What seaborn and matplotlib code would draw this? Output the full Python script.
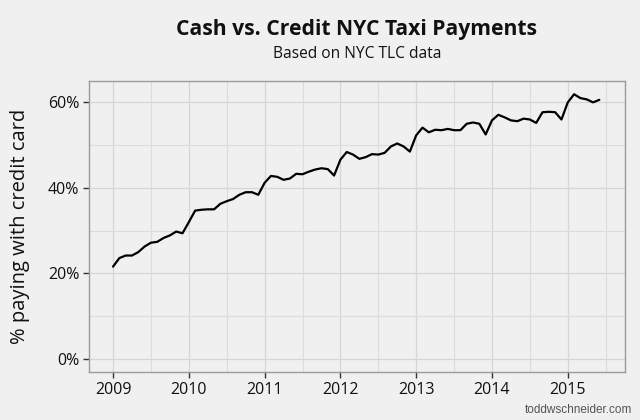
import numpy as np
import pandas as pd
import matplotlib
matplotlib.use("Agg")
import matplotlib.pyplot as plt
import seaborn as sns
from matplotlib.ticker import MultipleLocator, FuncFormatter

start_year = 2009
credit_pct = [
    21.6, 23.6, 24.2, 24.2, 25.0, 26.3, 27.2, 27.4, 28.3, 28.9, 29.8, 29.4,
    32.0, 34.7, 34.9, 35.0, 35.0, 36.3, 36.9, 37.4, 38.4, 39.0, 39.0, 38.4,
    41.2, 42.8, 42.6, 41.9, 42.2, 43.3, 43.2, 43.8, 44.3, 44.6, 44.4, 42.9,
    46.6, 48.4, 47.8, 46.8, 47.2, 47.9, 47.8, 48.2, 49.7, 50.4, 49.7, 48.5,
    52.3, 54.1, 53.0, 53.6, 53.5, 53.8, 53.5, 53.5, 55.0, 55.3, 55.0, 52.5,
    55.8, 57.1, 56.5, 55.8, 55.6, 56.2, 56.0, 55.2, 57.7, 57.8, 57.7, 56.0,
    60.0, 61.9, 61.0, 60.7, 60.0, 60.6,
]
year_ticks = [2009, 2010, 2011, 2012, 2013, 2014, 2015]
pct_ticks = [0, 20, 40, 60]

months = np.arange(len(credit_pct))
df = pd.DataFrame({"t": start_year + months / 12.0, "pct": credit_pct})

sns.set_theme(style="whitegrid")
bg = "#F0F0F0"
plt.rcParams["font.family"] = ["Open Sans", "DejaVu Sans"]

fig = plt.figure(figsize=(6.4, 4.2), dpi=100, facecolor=bg)
ax = fig.add_axes([89 / 640, 1 - 372.3 / 420, (625 - 89) / 640, (372.3 - 81) / 420])
ax.set_facecolor(bg)

sns.lineplot(data=df, x="t", y="pct", ax=ax, color="black", linewidth=1.6)

ax.set_xlim(2008.683, 2015.755)
ax.set_ylim(-3.1, 65.0)
ax.set_xticks(year_ticks)
ax.set_xticklabels([str(y) for y in year_ticks])
ax.set_yticks(pct_ticks)
ax.yaxis.set_major_formatter(FuncFormatter(lambda v, p: f"{v:.0f}%"))
ax.xaxis.set_minor_locator(MultipleLocator(0.5))
ax.yaxis.set_minor_locator(MultipleLocator(10))

ax.grid(which="major", color="#D6D6D6", linewidth=0.9)
ax.grid(which="minor", color="#DCDCDC", linewidth=0.8)
ax.set_axisbelow(True)
for s in ax.spines.values():
    s.set_color("#9A9A9A")
    s.set_linewidth(1.0)

ax.tick_params(axis="both", which="major", length=4, width=1, color="#333333",
               labelsize=11.5, labelcolor="#111111", pad=3, direction="out",
               bottom=True, left=True)
ax.tick_params(axis="both", which="minor", length=0)

ax.set_xlabel("")
ax.set_ylabel("% paying with credit card", fontsize=14.5, color="#111111",
              va="center")
ax.yaxis.set_label_coords((20 - 89) / 536, 0.5)

fig.text(357 / 640, 1 - 30 / 420, "Cash vs. Credit NYC Taxi Payments",
         ha="center", va="center", fontsize=15.2, fontweight="bold", color="#111111")
fig.text(357 / 640, 1 - 54 / 420, "Based on NYC TLC data",
         ha="center", va="center", fontsize=11.2, color="#111111")
fig.text(632 / 640, 1 - 410 / 420, "toddwschneider.com",
         ha="right", va="center", fontsize=8.5, color="#555555",
         family=["Liberation Sans", "DejaVu Sans"])

fig.savefig("out.png", dpi=100, facecolor=bg)
